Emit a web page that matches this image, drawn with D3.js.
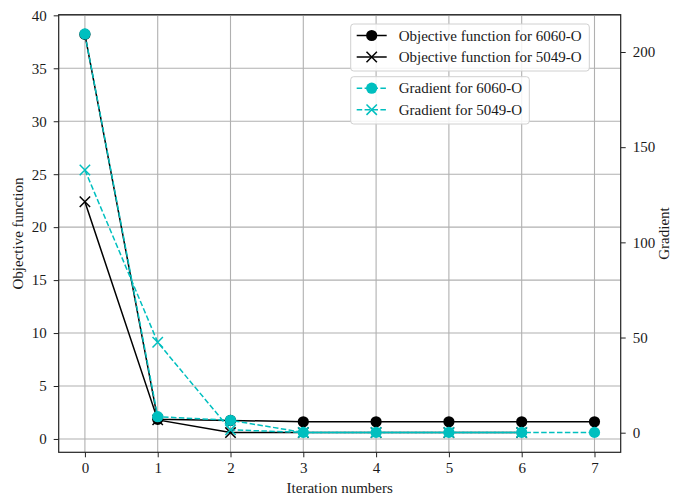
<!DOCTYPE html>
<html>
<head>
<meta charset="utf-8">
<script src="https://cdn.jsdelivr.net/npm/d3@7"></script>
<style>
  body { margin: 0; background: #fff; }
  svg { display: block; font-family: "Liberation Serif", "Times New Roman", serif; }
</style>
</head>
<body>
<svg id="chart" width="673" height="497"></svg>
<script>
// ---- Data ----
const iterations = [0, 1, 2, 3, 4, 5, 6, 7];
const xTicks = [0, 1, 2, 3, 4, 5, 6, 7];
const objTicks = [0, 5, 10, 15, 20, 25, 30, 35, 40];
const gradTicks = [0, 50, 100, 150, 200];

const obj6060 = [38.2, 1.85, 1.75, 1.62, 1.62, 1.62, 1.62, 1.62];
const obj5049 = [22.4, 1.8, 0.6, 0.6, 0.6, 0.6, 0.6];
const grad6060 = [209.5, 8.4, 6.5, 0.15, 0.15, 0.15, 0.15, 0.15];
const grad5049 = [138, 47.5, 1.5, 0.15, 0.15, 0.15, 0.15];

const legend1Labels = ["Objective function for 6060-O", "Objective function for 5049-O"];
const legend2Labels = ["Gradient for 6060-O", "Gradient for 5049-O"];

// ---- Layout ----
const svg = d3.select("#chart");
const L = 58.7, R = 620.7, T = 14.7, B = 452.3;
const cyan = "#00bfbf";
const ink = "#1a1a1a";

const x = d3.scaleLinear().domain([-0.36, 7.36]).range([L, R]);
const yL = d3.scaleLinear().domain([-1.26, 40.06]).range([B, T]);
const yR = d3.scaleLinear().domain([-10.3, 219.6]).range([B, T]);

// grid
const grid = svg.append("g");
grid.selectAll(".gx").data(xTicks).join("line")
  .attr("x1", d => x(d)).attr("x2", d => x(d)).attr("y1", T).attr("y2", B)
  .attr("stroke", "#b0b0b0").attr("stroke-width", 1.1);
grid.selectAll(".gy").data(objTicks).join("line")
  .attr("x1", L).attr("x2", R).attr("y1", d => yL(d)).attr("y2", d => yL(d))
  .attr("stroke", "#b0b0b0").attr("stroke-width", 1.1);

// series drawing
function drawSeries(vals, yScale, color, dashed, marker) {
  const pts = vals.map((v, i) => [iterations[i], v]);
  const line = d3.line().x(d => x(d[0])).y(d => yScale(d[1]));
  svg.append("path").datum(pts).attr("d", line)
    .attr("fill", "none").attr("stroke", color).attr("stroke-width", 1.5)
    .attr("stroke-dasharray", dashed ? "5.5,2.4" : null);
  const g = svg.append("g");
  if (marker === "o") {
    g.selectAll("circle").data(pts).join("circle")
      .attr("cx", d => x(d[0])).attr("cy", d => yScale(d[1])).attr("r", 5.6)
      .attr("fill", color);
  } else {
    const s = 5.2;
    g.selectAll("path").data(pts).join("path")
      .attr("d", d => {
        const cx = x(d[0]), cy = yScale(d[1]);
        return `M${cx - s},${cy - s}L${cx + s},${cy + s}M${cx - s},${cy + s}L${cx + s},${cy - s}`;
      })
      .attr("stroke", color).attr("stroke-width", 1.5).attr("fill", "none");
  }
}

drawSeries(obj6060, yL, "#000", false, "o");
drawSeries(obj5049, yL, "#000", false, "x");
drawSeries(grad6060, yR, cyan, true, "o");
drawSeries(grad5049, yR, cyan, true, "x");

// axes
const fs = "15px";
const ax = svg.append("g").attr("transform", `translate(0,${B})`)
  .call(d3.axisBottom(x).tickValues(xTicks).tickFormat(d3.format("d")).tickSize(5).tickPadding(5));
const ayL = svg.append("g").attr("transform", `translate(${L},0)`)
  .call(d3.axisLeft(yL).tickValues(objTicks).tickFormat(d3.format("d")).tickSize(5).tickPadding(7));
const ayR = svg.append("g").attr("transform", `translate(${R},0)`)
  .call(d3.axisRight(yR).tickValues(gradTicks).tickFormat(d3.format("d")).tickSize(5).tickPadding(7));
[ax, ayL, ayR].forEach(a => {
  a.select(".domain").remove();
  a.selectAll("text").attr("font-size", fs).attr("fill", ink).attr("font-family", "Liberation Serif");
  a.selectAll("line").attr("stroke", "#222").attr("stroke-width", 1);
});

// frame
svg.append("rect").attr("x", L).attr("y", T).attr("width", R - L).attr("height", B - T)
  .attr("fill", "none").attr("stroke", "#222").attr("stroke-width", 1.2);

// axis labels
svg.append("text").attr("x", (L + R) / 2).attr("y", 493).attr("text-anchor", "middle")
  .attr("font-size", fs).attr("fill", ink).text("Iteration numbers");
svg.append("text").attr("transform", `translate(23,${(T + B) / 2}) rotate(-90)`)
  .attr("text-anchor", "middle").attr("font-size", fs).attr("fill", ink).text("Objective function");
svg.append("text").attr("transform", `translate(669,${(T + B) / 2}) rotate(-90)`)
  .attr("text-anchor", "middle").attr("font-size", fs).attr("fill", ink).text("Gradient");

// legends
function legend(x0, y0, w, h, labels, color, dashed) {
  const g = svg.append("g");
  g.append("rect").attr("x", x0).attr("y", y0).attr("width", w).attr("height", h)
    .attr("rx", 3).attr("fill", "rgba(255,255,255,0.85)").attr("stroke", "#d0d0d0").attr("stroke-width", 1);
  labels.forEach((lab, i) => {
    const cy = y0 + 11.5 + i * 21.5;
    g.append("line").attr("x1", x0 + 6).attr("x2", x0 + 36).attr("y1", cy).attr("y2", cy)
      .attr("stroke", color).attr("stroke-width", 1.5).attr("stroke-dasharray", dashed ? "5.5,2.4" : null);
    const mx = x0 + 21;
    if (i === 0) {
      g.append("circle").attr("cx", mx).attr("cy", cy).attr("r", 5.6).attr("fill", color);
    } else {
      const s = 5.2;
      g.append("path").attr("d", `M${mx - s},${cy - s}L${mx + s},${cy + s}M${mx - s},${cy + s}L${mx + s},${cy - s}`)
        .attr("stroke", color).attr("stroke-width", 1.5);
    }
    g.append("text").attr("x", x0 + 48).attr("y", cy).attr("dy", "0.35em")
      .attr("font-size", fs).attr("fill", ink).text(lab);
  });
}
legend(350.7, 24, 238.6, 47, legend1Labels, "#000", false);
legend(350.7, 76.7, 178.6, 47.3, legend2Labels, cyan, true);
</script>
</body>
</html>
